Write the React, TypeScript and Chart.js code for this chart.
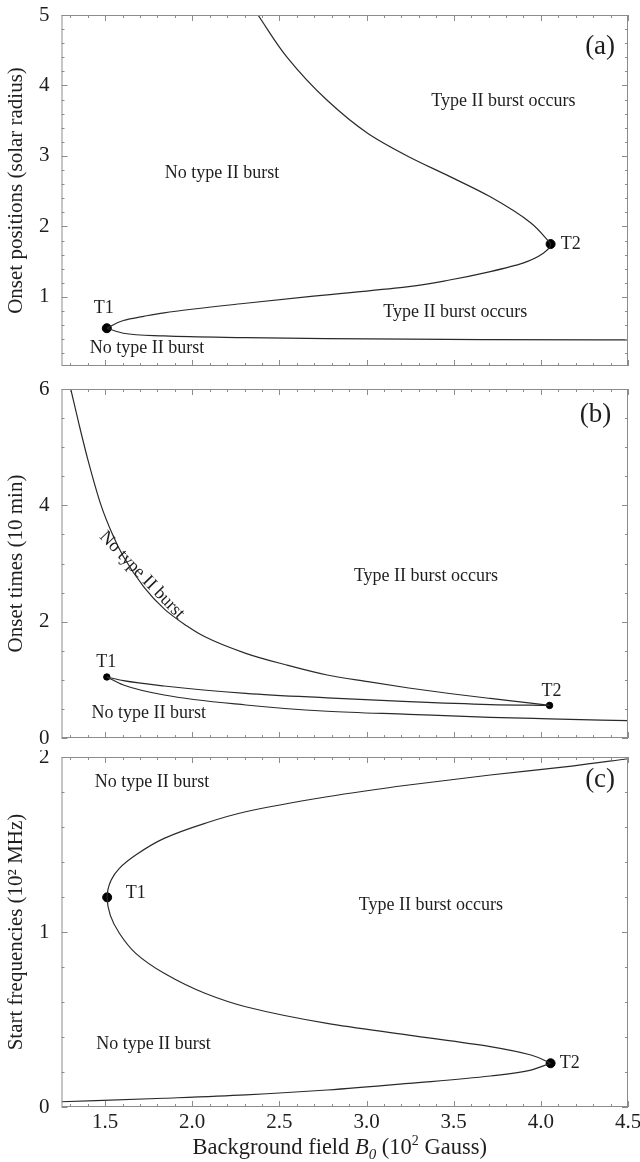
import { useEffect, useRef } from "react";
import { Chart, registerables } from "chart.js";

Chart.register(...registerables);

const SERIF = "'Liberation Serif', 'Times New Roman', serif";
const INK = "#1e1e1e";
const CURVE = "#2a2a2a";
const FRAME = "#8c8c8c";

// Shared abscissa: background field B0 (10^2 Gauss)
const B0_MIN = 1.25;
const B0_MAX = 4.5;
const B0_TICKS = [1.5, 2.0, 2.5, 3.0, 3.5, 4.0, 4.5];

// (a) Onset positions (solar radius)
const A_Y_TICKS = [1, 2, 3, 4, 5];
const A_UPPER_B0 = [2.377, 2.541, 2.774, 3.008, 3.242, 3.476, 3.71, 3.943, 4.037, 4.056, 4.014, 3.897, 3.71, 3.476, 3.242, 2.774, 2.307, 1.839, 1.722, 1.605, 1.51];
const A_UPPER_R = [5.0, 4.41, 3.79, 3.32, 2.99, 2.71, 2.42, 2.05, 1.81, 1.75, 1.62, 1.48, 1.36, 1.24, 1.146, 1.03, 0.91, 0.775, 0.725, 0.665, 0.556];
const A_LOWER_B0 = [1.51, 1.605, 1.839, 2.307, 2.774, 3.242, 3.71, 4.5];
const A_LOWER_R = [0.556, 0.485, 0.447, 0.423, 0.409, 0.4, 0.395, 0.39];
const A_TURN_B0 = [1.51, 4.056];
const A_TURN_R = [0.556, 1.75];

// (b) Onset times (10 min)
const B_Y_TICKS = [0, 2, 4, 6];
const B_UPPER_B0 = [1.303, 1.35, 1.4, 1.477, 1.55, 1.605, 1.722, 1.839, 1.968, 2.073, 2.307, 2.541, 2.774, 3.008, 3.242, 3.476, 3.71, 3.943, 4.05];
const B_UPPER_T = [6.0, 5.4, 4.8, 4.0, 3.45, 3.12, 2.6, 2.22, 1.93, 1.74, 1.456, 1.255, 1.083, 0.968, 0.86, 0.765, 0.68, 0.6, 0.56];
const B_MIDDLE_B0 = [1.51, 1.605, 1.839, 2.307, 2.774, 3.242, 3.71, 4.05];
const B_MIDDLE_T = [1.049, 0.985, 0.894, 0.768, 0.69, 0.624, 0.575, 0.56];
const B_LOWER_B0 = [1.51, 1.605, 1.839, 2.307, 2.774, 3.242, 3.71, 4.05, 4.5];
const B_LOWER_T = [1.049, 0.911, 0.739, 0.567, 0.46, 0.407, 0.356, 0.33, 0.298];
const B_TURN_B0 = [1.51, 4.05];
const B_TURN_T = [1.049, 0.56];

// (c) Start frequencies (10^2 MHz)
const C_Y_TICKS = [0, 1, 2];
const C_MAIN_B0 = [4.5, 4.177, 3.71, 3.242, 2.774, 2.307, 2.073, 1.839, 1.676, 1.582, 1.535, 1.512, 1.53, 1.582, 1.676, 1.839, 2.073, 2.307, 2.774, 3.242, 3.71, 3.943, 4.056];
const C_MAIN_F = [1.99, 1.948, 1.897, 1.84, 1.773, 1.687, 1.621, 1.535, 1.44, 1.364, 1.297, 1.198, 1.095, 0.993, 0.878, 0.764, 0.65, 0.573, 0.478, 0.411, 0.345, 0.297, 0.25];
const C_LOWER_B0 = [4.056, 3.943, 3.71, 3.242, 2.774, 2.307, 1.839, 1.25];
const C_LOWER_F = [0.25, 0.211, 0.177, 0.135, 0.097, 0.069, 0.05, 0.03];
const C_TURN_B0 = [1.512, 4.056];
const C_TURN_F = [1.198, 0.25];

type Note = { text: string; x: number; y: number; size?: number; angle?: number };

const A_NOTES: Note[] = [
  { text: "(a)", x: 4.34, y: 4.55, size: 27 },
  { text: "Type II burst occurs", x: 3.785, y: 3.77 },
  { text: "No type II burst", x: 2.171, y: 2.755 },
  { text: "Type II burst occurs", x: 3.509, y: 0.783 },
  { text: "No type II burst", x: 1.741, y: 0.272 },
  { text: "T1", x: 1.493, y: 0.84 },
  { text: "T2", x: 4.171, y: 1.748 },
];

const B_NOTES: Note[] = [
  { text: "(b)", x: 4.314, y: 5.55, size: 27 },
  { text: "Type II burst occurs", x: 3.341, y: 2.785 },
  { text: "No type II burst", x: 1.711, y: 2.8, angle: 46 },
  { text: "T1", x: 1.507, y: 1.31 },
  { text: "T2", x: 4.061, y: 0.796 },
  { text: "No type II burst", x: 1.75, y: 0.425 },
];

const C_NOTES: Note[] = [
  { text: "(c)", x: 4.34, y: 1.869, size: 27 },
  { text: "No type II burst", x: 1.769, y: 1.853 },
  { text: "T1", x: 1.676, y: 1.221 },
  { text: "Type II burst occurs", x: 3.369, y: 1.15 },
  { text: "No type II burst", x: 1.778, y: 0.36 },
  { text: "T2", x: 4.166, y: 0.25 },
];

const zip = (xs: number[], ys: number[]) => xs.map((x, i) => ({ x, y: ys[i] }));

// Branches that fold back in B0 are monotone in the ordinate, so they are
// interpolated along y; the others along x.
const curve = (xs: number[], ys: number[], along: "x" | "y" = "x") => ({
  type: "line" as const,
  data: zip(xs, ys),
  indexAxis: along,
  borderColor: CURVE,
  borderWidth: 1.2,
  pointRadius: 0,
  cubicInterpolationMode: "monotone" as const,
  fill: false,
});

const dots = (xs: number[], ys: number[], r: number) => ({
  type: "scatter" as const,
  data: zip(xs, ys),
  backgroundColor: "#000",
  borderColor: "#000",
  pointRadius: r,
  showLine: false,
});

// Frame with inward ticks on all four sides, in-plot notes and the mixed-style x title
function decor(spec: {
  yMajor: number;
  yMinor: number;
  notes: Note[];
  xTitle: boolean;
}) {
  return {
    id: "decor",
    afterDatasetsDraw(chart: any) {
      const { ctx, chartArea } = chart;
      const { left, right, top, bottom } = chartArea;
      const xs = chart.scales.x;
      const ys = chart.scales.y;
      ctx.save();
      ctx.strokeStyle = FRAME;
      ctx.lineWidth = 1;
      ctx.strokeRect(left + 0.5, top + 0.5, right - left - 1, bottom - top - 1);

      const seg = (x1: number, y1: number, x2: number, y2: number) => {
        ctx.beginPath();
        ctx.moveTo(x1, y1);
        ctx.lineTo(x2, y2);
        ctx.stroke();
      };
      const isMajor = (v: number, step: number) =>
        Math.abs(v / step - Math.round(v / step)) < 1e-6;

      for (let k = Math.ceil(B0_MIN / 0.1); k * 0.1 <= B0_MAX + 1e-9; k++) {
        const v = k * 0.1;
        const len = isMajor(v, 0.5) ? 6 : 3;
        const px = Math.round(xs.getPixelForValue(v)) + 0.5;
        seg(px, bottom, px, bottom - len);
        seg(px, top, px, top + len);
      }
      const yMin = ys.min;
      const yMax = ys.max;
      for (let k = Math.ceil(yMin / spec.yMinor); k * spec.yMinor <= yMax + 1e-9; k++) {
        const v = k * spec.yMinor;
        const len = isMajor(v, spec.yMajor) ? 6 : 3;
        const py = Math.round(ys.getPixelForValue(v)) + 0.5;
        seg(left, py, left + len, py);
        seg(right, py, right - len, py);
      }

      ctx.fillStyle = INK;
      ctx.textAlign = "center";
      ctx.textBaseline = "middle";
      for (const n of spec.notes) {
        ctx.font = `${n.size ?? 18}px ${SERIF}`;
        const px = xs.getPixelForValue(n.x);
        const py = ys.getPixelForValue(n.y);
        if (n.angle) {
          ctx.save();
          ctx.translate(px, py);
          ctx.rotate((n.angle * Math.PI) / 180);
          ctx.fillText(n.text, 0, 0);
          ctx.restore();
        } else {
          ctx.fillText(n.text, px, py);
        }
      }

      if (spec.xTitle) {
        const parts: { t: string; font: string; dy: number }[] = [
          { t: "Background field ", font: `22.5px ${SERIF}`, dy: 0 },
          { t: "B", font: `italic 22.5px ${SERIF}`, dy: 0 },
          { t: "0", font: `italic 15px ${SERIF}`, dy: 5 },
          { t: " (10", font: `22.5px ${SERIF}`, dy: 0 },
          { t: "2", font: `14px ${SERIF}`, dy: -9 },
          { t: " Gauss)", font: `22.5px ${SERIF}`, dy: 0 },
        ];
        let total = 0;
        const widths = parts.map((p) => {
          ctx.font = p.font;
          const w = ctx.measureText(p.t).width;
          total += w;
          return w;
        });
        let x = (left + right) / 2 - total / 2 - 5;
        const baseY = chart.height - 8;
        ctx.textAlign = "left";
        ctx.textBaseline = "alphabetic";
        parts.forEach((p, i) => {
          ctx.font = p.font;
          ctx.fillText(p.t, x, baseY + p.dy);
          x += widths[i];
        });
      }
      ctx.restore();
    },
  };
}

type PanelSpec = {
  datasets: any[];
  yMin: number;
  yMax: number;
  yTicks: number[];
  yMajor: number;
  yMinor: number;
  yTitle: string;
  notes: Note[];
  showX: boolean;
  pad: { top: number; bottom: number };
};

function buildConfig(p: PanelSpec): any {
  const tickFont = { family: SERIF, size: 21 };
  return {
    type: "line",
    data: { datasets: p.datasets },
    options: {
      animation: false,
      responsive: false,
      devicePixelRatio: 1,
      events: [],
      layout: { padding: { left: 0, right: 12, top: p.pad.top, bottom: p.pad.bottom } },
      plugins: { legend: { display: false }, tooltip: { enabled: false } },
      scales: {
        x: {
          type: "linear",
          min: B0_MIN,
          max: B0_MAX,
          display: p.showX,
          grid: { display: false, drawTicks: false },
          border: { display: false },
          ticks: {
            font: tickFont,
            color: INK,
            padding: 3,
            autoSkip: false,
            maxRotation: 0,
            callback: (v: number) => Number(v).toFixed(1),
          },
          afterBuildTicks: (s: any) => {
            s.ticks = B0_TICKS.map((value) => ({ value }));
          },
          afterFit: (s: any) => {
            s.height = p.showX ? 55 : 0;
            s.paddingLeft = 0;
            s.paddingRight = 0;
          },
        },
        y: {
          type: "linear",
          min: p.yMin,
          max: p.yMax,
          grid: { display: false, drawTicks: false },
          border: { display: false },
          title: {
            display: true,
            text: p.yTitle,
            font: { family: SERIF, size: 21 },
            color: INK,
            padding: { top: 4, bottom: 0 },
          },
          ticks: { font: tickFont, color: INK, padding: 12 },
          afterBuildTicks: (s: any) => {
            s.ticks = p.yTicks.map((value) => ({ value }));
          },
          afterFit: (s: any) => {
            s.width = 61.5;
            s.paddingTop = 0;
            s.paddingBottom = 0;
          },
        },
      },
    },
    plugins: [decor({ yMajor: p.yMajor, yMinor: p.yMinor, notes: p.notes, xTitle: p.showX })],
  };
}

const PANELS: { top: number; height: number; spec: () => PanelSpec }[] = [
  {
    top: 0,
    height: 376,
    spec: () => ({
      datasets: [
        curve(A_UPPER_B0, A_UPPER_R, "y"),
        curve(A_LOWER_B0, A_LOWER_R, "x"),
        dots(A_TURN_B0, A_TURN_R, 4.5),
      ],
      yMin: 0.02,
      yMax: 5,
      yTicks: A_Y_TICKS,
      yMajor: 1,
      yMinor: 0.2,
      yTitle: "Onset positions (solar radius)",
      notes: A_NOTES,
      showX: false,
      pad: { top: 15, bottom: 10 },
    }),
  },
  {
    top: 376,
    height: 374,
    spec: () => ({
      datasets: [
        curve(B_UPPER_B0, B_UPPER_T, "x"),
        curve(B_MIDDLE_B0, B_MIDDLE_T, "x"),
        curve(B_LOWER_B0, B_LOWER_T, "x"),
        dots(B_TURN_B0, B_TURN_T, 3.2),
      ],
      yMin: 0,
      yMax: 6,
      yTicks: B_Y_TICKS,
      yMajor: 2,
      yMinor: 0.5,
      yTitle: "Onset times (10 min)",
      notes: B_NOTES,
      showX: false,
      pad: { top: 13, bottom: 12 },
    }),
  },
  {
    top: 750,
    height: 412,
    spec: () => ({
      datasets: [
        curve(C_MAIN_B0, C_MAIN_F, "y"),
        curve(C_LOWER_B0, C_LOWER_F, "x"),
        dots(C_TURN_B0, C_TURN_F, 4.5),
      ],
      yMin: 0,
      yMax: 2,
      yTicks: C_Y_TICKS,
      yMajor: 1,
      yMinor: 0.2,
      yTitle: "Start frequencies (10\u00b2 MHz)",
      notes: C_NOTES,
      showX: true,
      pad: { top: 7, bottom: 0 },
    }),
  },
];

function Panel({ top, height, spec }: { top: number; height: number; spec: () => PanelSpec }) {
  const ref = useRef<HTMLCanvasElement | null>(null);
  useEffect(() => {
    if (!ref.current) return;
    const chart = new Chart(ref.current, buildConfig(spec()));
    return () => chart.destroy();
  }, [spec]);
  return (
    <canvas
      ref={ref}
      width={640}
      height={height}
      style={{ position: "absolute", left: 0, top, width: 640, height }}
    />
  );
}

export default function App() {
  return (
    <div
      style={{
        position: "absolute",
        left: 0,
        top: 0,
        width: 640,
        height: 1162,
        background: "#ffffff",
        overflow: "hidden",
      }}
    >
      {PANELS.map((p, i) => (
        <Panel key={i} top={p.top} height={p.height} spec={p.spec} />
      ))}
    </div>
  );
}
